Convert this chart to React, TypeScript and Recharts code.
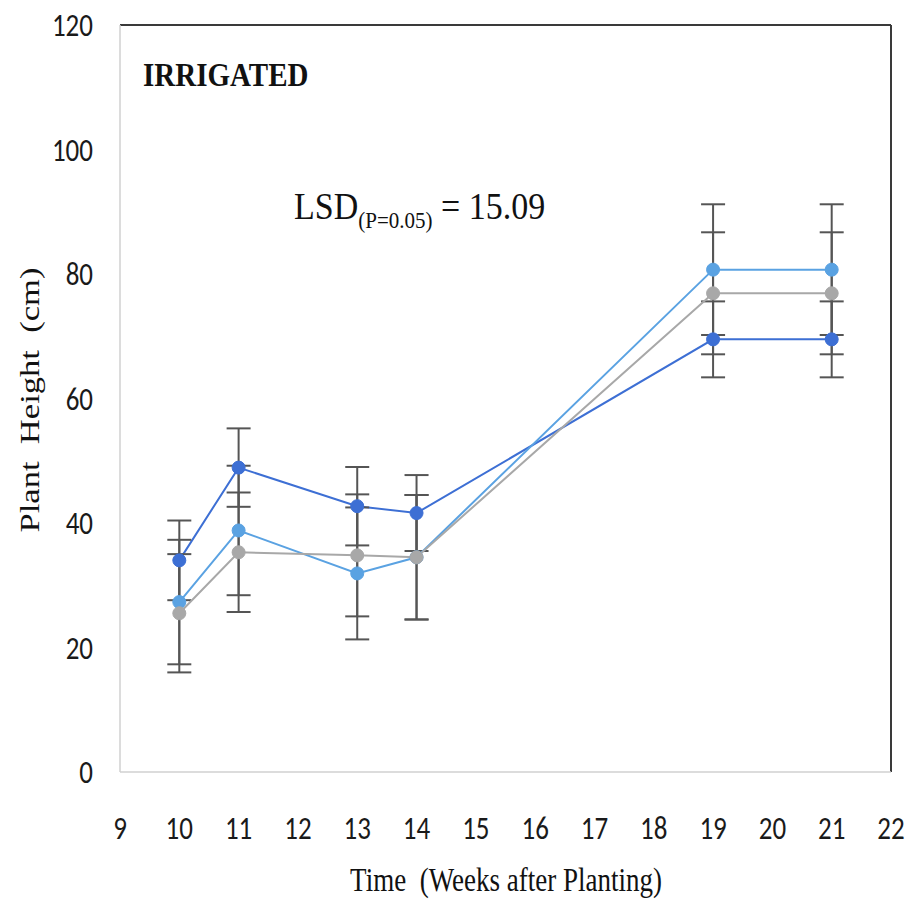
import React from 'react';
import { LineChart, Line, XAxis, YAxis, ErrorBar, ReferenceLine } from 'recharts';

const weeks = [10, 11, 13, 14, 19, 21];
const seriesDark = [34.0, 48.9, 42.7, 41.6, 69.5, 69.5];
const seriesLight = [27.3, 38.8, 31.9, 34.5, 80.7, 80.7];
const seriesGray = [25.5, 35.3, 34.8, 34.5, 76.9, 76.9];
const errDark = [6.4, 6.3, 6.3, 6.1, 6.1, 6.1];
const errLight = [10.0, 10.4, 10.6, 10.0, 10.5, 10.5];
const errGray = [9.5, 9.6, 9.8, 10.0, 9.8, 9.8];
const xTicks = [9, 10, 11, 12, 13, 14, 15, 16, 17, 18, 19, 20, 21, 22];
const yTicks = [0, 20, 40, 60, 80, 100, 120];

const data = weeks.map((w, i) => ({
  week: w,
  dark: seriesDark[i],
  light: seriesLight[i],
  gray: seriesGray[i],
  eDark: errDark[i],
  eLight: errLight[i],
  eGray: errGray[i],
}));

const tickFont = 'Carlito, Lato, "Open Sans", sans-serif';
const serif = '"Liberation Serif", "Times New Roman", serif';

const XTick = (props: any) => {
  const { x, y, payload } = props;
  return (
    <text transform={`translate(${x},${y}) scale(1,1.22)`} x={0} y={0} textAnchor="middle" dominantBaseline="central"
      fontFamily={tickFont} fontSize={27} fill="#1a1a1a">
      {payload.value}
    </text>
  );
};

const YTick = (props: any) => {
  const { x, y, payload } = props;
  return (
    <text transform={`translate(${x},${y}) scale(1,1.22)`} x={0} y={0} textAnchor="end" dominantBaseline="central"
      fontFamily={tickFont} fontSize={27} fill="#1a1a1a">
      {payload.value}
    </text>
  );
};

export default function App() {
  return (
    <div style={{ position: 'absolute', left: 0, top: 0, width: 905, height: 902, background: '#fff' }}>
      <LineChart width={905} height={902} data={data} margin={{ top: 25, right: 14, bottom: 0, left: 0 }}>
        <XAxis
          dataKey="week"
          type="number"
          domain={[9, 22]}
          ticks={xTicks}
          interval={0}
          height={130}
          axisLine={{ stroke: '#d0d0d0', strokeWidth: 1.5 }}
          tickLine={false}
          tickSize={0}
          tickMargin={56}
          tick={<XTick />}
        />
        <YAxis
          type="number"
          domain={[0, 120]}
          ticks={yTicks}
          interval={0}
          width={120}
          axisLine={{ stroke: '#d0d0d0', strokeWidth: 1.5 }}
          tickLine={false}
          tickSize={0}
          tickMargin={27}
          tick={<YTick />}
        />
        <ReferenceLine y={120} stroke="#3a3a3a" strokeWidth={2} />
        <ReferenceLine x={22} stroke="#3a3a3a" strokeWidth={2} />
        <Line dataKey="dark" stroke="#3d6fd4" strokeWidth={2} isAnimationActive={false}
          dot={{ r: 6.5, fill: '#3d6fd4', stroke: '#3d6fd4', strokeWidth: 1 }} activeDot={false}>
          <ErrorBar dataKey="eDark" direction="y" width={12} stroke="#555" strokeWidth={2} isAnimationActive={false} />
        </Line>
        <Line dataKey="light" stroke="#5aa2e2" strokeWidth={2} isAnimationActive={false}
          dot={{ r: 6.5, fill: '#5aa2e2', stroke: '#5aa2e2', strokeWidth: 1 }} activeDot={false}>
          <ErrorBar dataKey="eLight" direction="y" width={12} stroke="#555" strokeWidth={2} isAnimationActive={false} />
        </Line>
        <Line dataKey="gray" stroke="#a8a8a8" strokeWidth={2} isAnimationActive={false}
          dot={{ r: 6.5, fill: '#a8a8a8', stroke: '#a8a8a8', strokeWidth: 1 }} activeDot={false}>
          <ErrorBar dataKey="eGray" direction="y" width={12} stroke="#555" strokeWidth={2} isAnimationActive={false} />
        </Line>
      </LineChart>
      <div style={{ position: 'absolute', left: 143, top: 75, width: 0, height: 0 }}>
        <div style={{ position: 'absolute', left: 0, top: 0, transform: 'translateY(-50%) scaleY(1.15)', transformOrigin: 'left center',
          fontFamily: serif, fontWeight: 'bold', fontSize: 29, color: '#111', lineHeight: 1, whiteSpace: 'pre' }}>
          IRRIGATED
        </div>
      </div>
      <div style={{ position: 'absolute', left: 294, top: 210, width: 0, height: 0 }}>
        <div style={{ position: 'absolute', left: 0, top: 0, transform: 'translateY(-50%) scaleY(1.12)', transformOrigin: 'left center',
          fontFamily: serif, fontSize: 34, color: '#111', lineHeight: 1, whiteSpace: 'pre' }}>
          LSD<sub style={{ fontSize: 21 }}>(P=0.05)</sub> = 15.09
        </div>
      </div>
      <div style={{ position: 'absolute', left: 506, top: 880, width: 0, height: 0 }}>
        <div style={{ position: 'absolute', left: 0, top: 0, transform: 'translate(-50%, -50%) scaleY(1.28)',
          fontFamily: serif, fontSize: 27, color: '#111', lineHeight: 1, whiteSpace: 'pre' }}>
          Time  (Weeks after Planting)
        </div>
      </div>
      <div style={{ position: 'absolute', left: 30, top: 400, width: 0, height: 0 }}>
        <div style={{ position: 'absolute', left: 0, top: 0, transform: 'translate(-50%, -50%) rotate(-90deg) scaleX(1.28)',
          fontFamily: serif, fontSize: 27, color: '#111', lineHeight: 1, whiteSpace: 'pre' }}>
          Plant  Height  (cm)
        </div>
      </div>
    </div>
  );
}
